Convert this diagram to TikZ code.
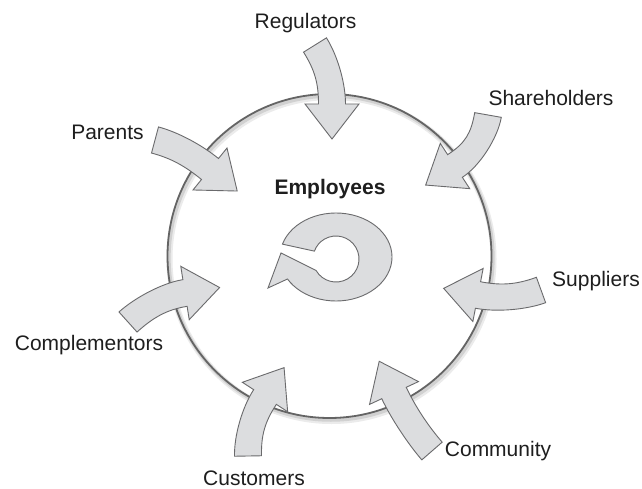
\documentclass[tikz,border=0pt]{standalone}
\usepackage{fontspec}
\setmainfont{Liberation Sans}
\usetikzlibrary{calc}

\definecolor{arrowfill}{HTML}{DCDDDF}
\definecolor{arrowline}{HTML}{6A6A6C}
\definecolor{ringline}{HTML}{646464}
\definecolor{labeltext}{HTML}{1E1E1E}

% block arrow geometry (pt): shaft half width, head half width, head length, curve handle
\newcommand\shw{13.5}
\newcommand\hhw{27}
\newcommand\hlen{35}
\newcommand\ctl{21}

% curved block arrow: #1 name, #2 tail centre, #3 tail heading,
% #4 centre of the head's back edge, #5 head heading (angles clockwise, y down)
\newcommand\inarrow[5]{%
  \coordinate (#1-t) at (#2);
  \coordinate (#1-h) at (#4);
  \draw[blockarrow]
    ($(#1-t)+({#3-90}:\shw)$)
      .. controls ($(#1-t)+({#3-90}:\shw)+(#3:\ctl)$)
             and ($(#1-h)+({#5-90}:\shw)+({#5+180}:\ctl)$) ..
    ($(#1-h)+({#5-90}:\shw)$)
    -- ($(#1-h)+({#5-90}:\hhw)$)
    -- ($(#1-h)+(#5:\hlen)$)
    -- ($(#1-h)+({#5+90}:\hhw)$)
    -- ($(#1-h)+({#5+90}:\shw)$)
      .. controls ($(#1-h)+({#5+90}:\shw)+({#5+180}:\ctl)$)
             and ($(#1-t)+({#3+90}:\shw)+(#3:\ctl)$) ..
    ($(#1-t)+({#3+90}:\shw)$)
    -- cycle;
}

\tikzset{
  blockarrow/.style={fill=arrowfill, draw=arrowline, line width=0.9pt, line join=miter},
  party/.style={font=\fontsize{21}{24}\selectfont, text=labeltext, inner sep=0pt, anchor=base},
}

\begin{document}
\begin{tikzpicture}[x=1pt,y=-1pt]
\useasboundingbox (0,0) rectangle (642,489);
\fill[white] (0,0) rectangle (642,489);

% organisation boundary with a soft drop shadow
\coordinate (hub) at (329.5,256);
\draw[line width=6pt, black!8]  ($(hub)+(2,3)$) circle[radius=162];
\draw[line width=3.5pt, black!18] ($(hub)+(1.4,2)$) circle[radius=162];
\draw[line width=1.8pt, ringline] (hub) circle[radius=162];

% stakeholder arrows pointing inward
\inarrow{reg}{315,45}{58}{332,104}{90}
\inarrow{sha}{488,115}{100}{455,166}{147}
\inarrow{par}{155,140}{15}{210,169}{39}
\inarrow{sup}{541,290}{160}{478,295}{191}
\inarrow{com}{432,451}{229}{394,393}{245}
\inarrow{cus}{248,456}{269}{265,397}{303}
\inarrow{cpl}{128,322}{318}{185,293}{351}

% circular arrow in the middle
\coordinate (cyc) at (336,257);
\coordinate (cych) at (336,259);
\draw[blockarrow]
  ($(cyc)+(197:56 and 44)$) arc[start angle=197, end angle=510, x radius=56, y radius=44]
  -- (268,288) -- (281,253)
  -- ($(cych)+(150:23)$) arc[start angle=150, end angle=-160, radius=23]
  -- cycle;

% labels
\node[party] (regulators)    at (305.5,28.5) {Regulators};
\node[party] (shareholders)  at (551,106)    {Shareholders};
\node[party] (parents)       at (107.5,140)  {Parents};
\node[party] (suppliers)     at (596,286)    {Suppliers};
\node[party] (complementors) at (89,350.7)   {Complementors};
\node[party] (community)     at (498,456.7)  {Community};
\node[party] (customers)     at (254,485.7)  {Customers};
\node[party, font=\bfseries\fontsize{21}{24}\selectfont] (employees) at (330,194) {Employees};
\end{tikzpicture}
\end{document}
